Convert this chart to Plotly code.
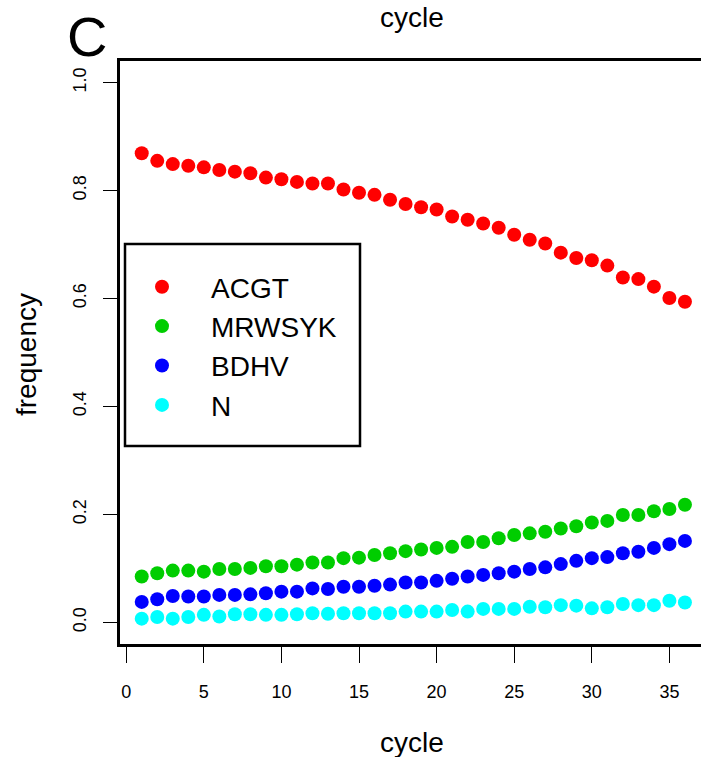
import plotly.graph_objects as go

cycles = list(range(1, 37))
acgt = [0.869, 0.855, 0.849, 0.846, 0.843, 0.838, 0.835, 0.832, 0.824, 0.821,
        0.816, 0.813, 0.813, 0.802, 0.796, 0.792, 0.783, 0.775, 0.769, 0.765,
        0.752, 0.746, 0.739, 0.731, 0.718, 0.709, 0.702, 0.685, 0.675, 0.671,
        0.661, 0.639, 0.636, 0.622, 0.601, 0.594]
mrwsyk = [0.085, 0.091, 0.096, 0.096, 0.094, 0.099, 0.099, 0.101, 0.104, 0.104,
          0.107, 0.111, 0.111, 0.119, 0.120, 0.125, 0.128, 0.132, 0.135, 0.138,
          0.140, 0.149, 0.149, 0.156, 0.162, 0.165, 0.168, 0.174, 0.178, 0.185,
          0.188, 0.199, 0.199, 0.206, 0.210, 0.218]
bdhv = [0.038, 0.043, 0.049, 0.048, 0.048, 0.051, 0.051, 0.052, 0.054, 0.057,
        0.057, 0.063, 0.062, 0.066, 0.066, 0.068, 0.070, 0.074, 0.074, 0.077,
        0.081, 0.085, 0.088, 0.091, 0.094, 0.099, 0.102, 0.108, 0.114, 0.119,
        0.121, 0.128, 0.131, 0.138, 0.145, 0.151]
n_freq = [0.007, 0.010, 0.007, 0.010, 0.014, 0.011, 0.015, 0.015, 0.014, 0.014,
          0.015, 0.017, 0.016, 0.017, 0.017, 0.017, 0.017, 0.020, 0.020, 0.020,
          0.023, 0.020, 0.025, 0.025, 0.025, 0.029, 0.028, 0.032, 0.031, 0.026,
          0.028, 0.034, 0.032, 0.032, 0.040, 0.037]

series_names = ["ACGT", "MRWSYK", "BDHV", "N"]
series_colors = ["#FF0000", "#00CD00", "#0000FF", "#00FFFF"]
x_ticks = [0, 5, 10, 15, 20, 25, 30, 35]
y_ticks = [0.0, 0.2, 0.4, 0.6, 0.8, 1.0]

W, H = 701, 757
L, R, T, B = 120, 0, 61, 113
PW, PH = W - L - R, H - T - B
FONT = "Liberation Sans, Arial, Helvetica, sans-serif"


def px(xp):
    return (xp - L) / PW


def py(yp):
    return (H - B - yp) / PH


fig = go.Figure()
for name, vals, col in zip(series_names, [acgt, mrwsyk, bdhv, n_freq], series_colors):
    fig.add_trace(go.Scatter(x=cycles, y=vals, mode="markers", name=name,
                             marker=dict(color=col, size=14, line=dict(width=0))))

axis_common = dict(showgrid=False, zeroline=False, showline=True, linecolor="black",
                   linewidth=2.5, ticks="outside", tickcolor="black", tickwidth=1.3,
                   tickfont=dict(family=FONT, size=18, color="black"))

fig.update_xaxes(range=[-0.4, -0.4 + PW / 15.52], tickvals=x_ticks, ticklen=16,
                 mirror=True, ticklabelstandoff=14, **axis_common)
fig.update_yaxes(range=[-0.04, 1.04], tickvals=y_ticks, tickformat=".1f", ticklen=14,
                 tickangle=-90, ticklabelstandoff=10, **axis_common)

annos = [
    dict(text="C", x=px(87), y=py(36), font=dict(size=56)),
    dict(text="cycle", x=px(412), y=py(18), font=dict(size=28)),
    dict(text="cycle", x=px(412), y=py(742), font=dict(size=28)),
    dict(text="frequency", x=px(26), y=py(355), font=dict(size=28), textangle=-90),
]
for a in annos:
    a["font"].update(family=FONT, color="black")
    fig.add_annotation(xref="paper", yref="paper", showarrow=False,
                       xanchor="center", yanchor="middle", **a)

# legend frame
fig.add_shape(type="rect", xref="paper", yref="paper",
              x0=px(125), x1=px(360), y0=py(446), y1=py(244),
              line=dict(color="black", width=2.5), fillcolor="white", layer="above")

fig.update_layout(
    width=W, height=H, margin=dict(l=L, r=R, t=T, b=B, pad=0),
    plot_bgcolor="white", paper_bgcolor="white",
    font=dict(family=FONT, color="black"),
    legend=dict(x=px(113), y=py(262), xanchor="left", yanchor="top",
                bgcolor="rgba(0,0,0,0)", borderwidth=0,
                font=dict(family=FONT, size=28, color="black"),
                itemwidth=88, tracegroupgap=0),
)

fig.write_html("out.html")
